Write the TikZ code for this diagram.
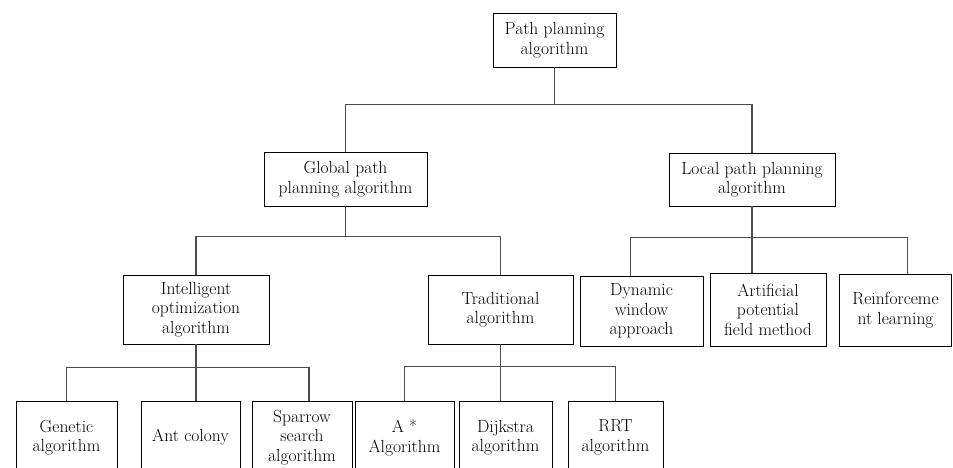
\documentclass[tikz,border=0pt]{standalone}
\usepackage{tikz}
\usetikzlibrary{arrows.meta}
\usetikzlibrary{calc}

\begin{document}
\begin{tikzpicture}[x=1pt,y=-1pt,
box/.style={draw=black,line width=0.9pt,align=center,inner sep=0pt,font=\fontsize{17.5}{19.5}\selectfont},
link/.style={draw=black!70,line width=1.1pt}]
\useasboundingbox (0,0) rectangle (953,468);
\clip (0,0) rectangle (953,468);
\node[box,minimum width=123pt,minimum height=54pt] (root) at (554.5,40) {Path planning\\algorithm};
\node[box,minimum width=163pt,minimum height=54pt] (global) at (345.5,179) {Global path\\planning algorithm};
\node[box,minimum width=166pt,minimum height=53pt] (local) at (752,179.5) {Local path planning\\algorithm};
\node[box,minimum width=146pt,minimum height=69pt] (intel) at (196,309.5) {Intelligent\\optimization\\algorithm};
\node[box,minimum width=145pt,minimum height=69pt] (trad) at (500.5,309.5) {Traditional\\algorithm};
\node[box,minimum width=123pt,minimum height=70pt] (dwa) at (641.5,311) {Dynamic\\window\\approach};
\node[box,minimum width=116pt,minimum height=73pt] (apf) at (768,309.5) {Artificial\\potential\\field method};
\node[box,minimum width=112pt,minimum height=72pt] (rl) at (895.5,310) {Reinforceme\\nt learning};
\node[box,minimum width=101pt,minimum height=72pt] (gen) at (66.5,437.5) {Genetic\\algorithm};
\node[box,minimum width=99pt,minimum height=72pt] (ant) at (190.5,437.5) {Ant colony};
\node[box,minimum width=100pt,minimum height=72pt] (spa) at (302,437.5) {Sparrow\\search\\algorithm};
\node[box,minimum width=99pt,minimum height=72pt] (astar) at (404.5,437.5) {A *\\Algorithm};
\node[box,minimum width=93pt,minimum height=72pt] (dij) at (505.5,437.5) {Dijkstra\\algorithm};
\node[box,minimum width=95pt,minimum height=72pt] (rrt) at (615.5,437.5) {RRT\\algorithm};

\coordinate (rootbar) at ([yshift=-37pt]root.south);
\coordinate (gbar) at ([yshift=-30pt]global.south);
\coordinate (lbar) at ([yshift=-31pt]local.south);
\coordinate (ibar) at ([yshift=-23pt]intel.south);
\coordinate (tbar) at ([yshift=-22pt]trad.south);

\draw[link] (root.south) -- (rootbar);
\draw[link] (global.north) |- (rootbar) -| (local.north);
\draw[link] (global.south) -- (gbar);
\draw[link] (intel.north) |- (gbar) -| (trad.north);
\draw[link] (local.south) -- (local.south |- apf.north);
\draw[link] ([xshift=-11pt]dwa.north) |- (lbar) -| ([xshift=12pt]rl.north);
\draw[link] (intel.south) -- (intel.south |- ant.north);
\draw[link] (gen.north) |- (ibar) -| ([xshift=7pt]spa.north);
\draw[link] (trad.south) -- (trad.south |- dij.north);
\draw[link] (astar.north) |- (tbar) -| (rrt.north);
\end{tikzpicture}
\end{document}
